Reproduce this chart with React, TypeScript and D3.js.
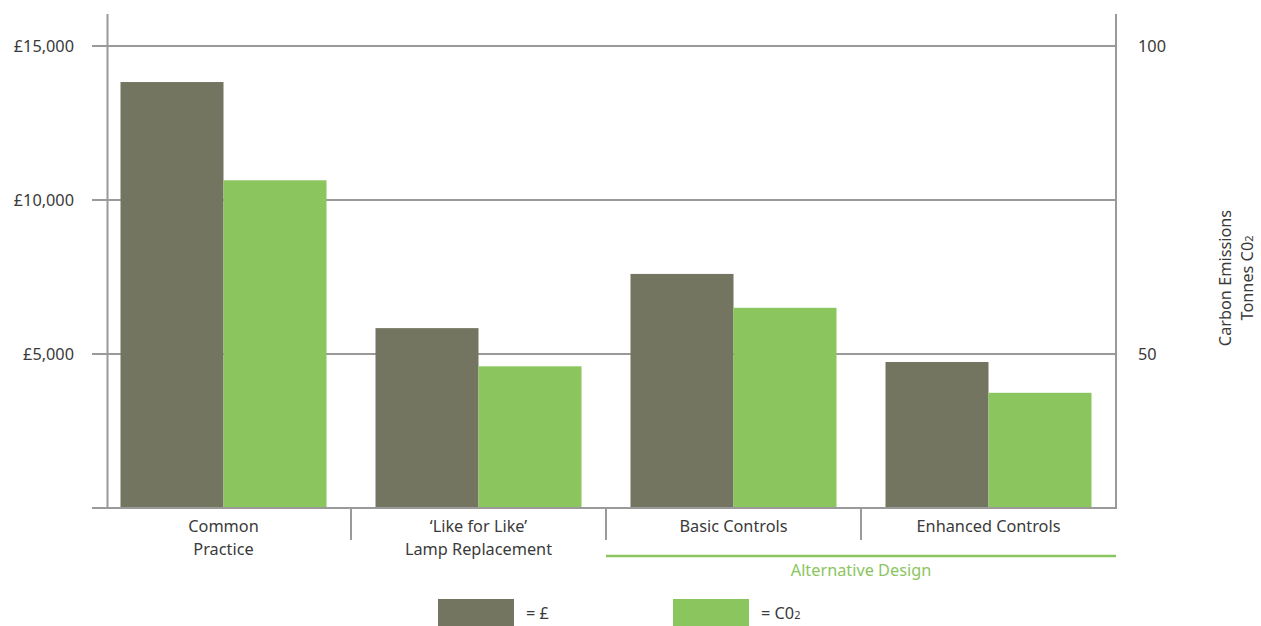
import React from "react";
import * as d3 from "d3";

const categories = [["Common", "Practice"], ["‘Like for Like’", "Lamp Replacement"], ["Basic Controls"], ["Enhanced Controls"]];
const costValues = [13830, 5840, 7600, 4740];
const co2Values = [78.2, 48.0, 57.5, 43.7];
const leftTicks = [5000, 10000, 15000];
const rightTicks = [50, 100];
const groupLabel = "Alternative Design";
const legendItems = ["= £", "= C0"];

const DARK = "#737561";
const GREEN = "#8BC55D";
const GRID = "#9a9a9a";
const TEXT = "#3a3a3a";
const FONT = "'Noto Sans', 'Open Sans', sans-serif";
const FS = 16.3;

export default function App() {
  const W = 1261, H = 626;
  const top = 46, base = 508;
  const x = d3.scaleBand<number>().domain(d3.range(categories.length)).range([96, 1116]);
  const yL = d3.scaleLinear().domain([0, 15000]).range([base, top]);
  const yR = d3.scaleLinear().domain([25, 100]).range([base, top]);
  const barW = 103;
  const fmt = (v: number) => "£" + d3.format(",")(v);

  return (
    <svg width={W} height={H} style={{ position: "absolute", left: 0, top: 0 }} fontFamily={FONT}>
      {leftTicks.map((t) => (
        <line key={t} x1={92} x2={1116} y1={yL(t)} y2={yL(t)} stroke={GRID} strokeWidth={2} />
      ))}
      {leftTicks.map((t) => (
        <text key={"l" + t} x={74} y={yL(t)} dy="0.35em" textAnchor="end" fontSize={FS} fill={TEXT}>{fmt(t)}</text>
      ))}
      {rightTicks.map((t) => (
        <text key={"r" + t} x={1138} y={yR(t)} dy="0.35em" fontSize={FS} fill={TEXT}>{t}</text>
      ))}
      {categories.map((_, i) => {
        const cx = (x(i) as number) + x.bandwidth() / 2;
        return (
          <g key={i}>
            <rect x={cx - barW} y={yL(costValues[i])} width={barW} height={base - yL(costValues[i])} fill={DARK} />
            <rect x={cx} y={yR(co2Values[i])} width={barW} height={base - yR(co2Values[i])} fill={GREEN} />
          </g>
        );
      })}
      <line x1={107.5} x2={107.5} y1={14} y2={base} stroke={GRID} strokeWidth={2} />
      <line x1={1116} x2={1116} y1={14} y2={base + 1} stroke={GRID} strokeWidth={2} />
      <line x1={92} x2={1117} y1={base} y2={base} stroke={GRID} strokeWidth={2} />
      {[1, 2, 3].map((i) => (
        <line key={i} x1={x(i) as number} x2={x(i) as number} y1={base} y2={540} stroke={GRID} strokeWidth={2} />
      ))}
      {categories.map((lines, i) => {
        const cx = (x(i) as number) + x.bandwidth() / 2;
        return (
          <text key={i} textAnchor="middle" fontSize={FS} fill={TEXT}>
            {lines.map((l, j) => (
              <tspan key={j} x={cx} y={532 + j * 23}>{l}</tspan>
            ))}
          </text>
        );
      })}
      <line x1={x(2) as number} x2={1116} y1={556} y2={556} stroke={GREEN} strokeWidth={2.5} />
      <text x={((x(2) as number) + 1116) / 2} y={576} textAnchor="middle" fontSize={FS} fill={GREEN}>{groupLabel}</text>
      <g transform="translate(1231,278) rotate(-90)">
        <text textAnchor="middle" fontSize={FS} fill={TEXT}>
          <tspan x={0} y={0}>Carbon Emissions</tspan>
          <tspan x={0} y={22}>Tonnes C0<tspan fontSize={11}>2</tspan></tspan>
        </text>
      </g>
      <rect x={438} y={599} width={76} height={27} fill={DARK} />
      <text x={526} y={619} fontSize={FS} fill={TEXT}>{legendItems[0]}</text>
      <rect x={673} y={599} width={76} height={27} fill={GREEN} />
      <text x={761} y={619} fontSize={FS} fill={TEXT}>{legendItems[1]}<tspan fontSize={11}>2</tspan></text>
    </svg>
  );
}
